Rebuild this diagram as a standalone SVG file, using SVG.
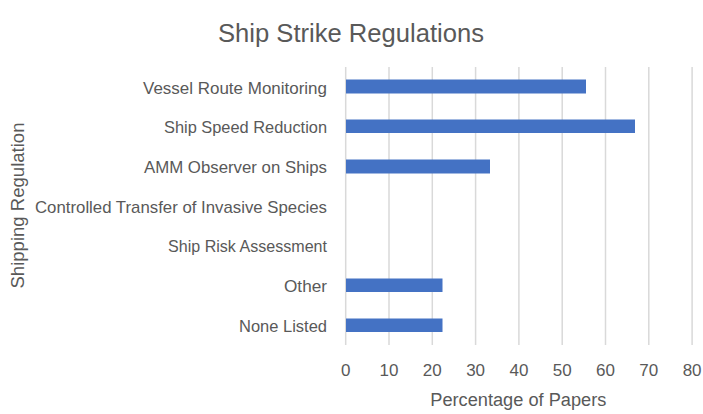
<svg xmlns="http://www.w3.org/2000/svg" width="703" height="414" viewBox="0 0 703 414">
<style>
text{font-family:"Liberation Sans",Arial,sans-serif;fill:#595959}
.cat{font-size:17px;text-anchor:end}
.tick{font-size:17px;text-anchor:middle}
.grid{stroke:#d9d9d9;stroke-width:1.5}
.bar{fill:#4472c4}
</style>
<rect width="703" height="414" fill="#ffffff"/>
<text x="351" y="42" font-size="26" text-anchor="middle" textLength="266" lengthAdjust="spacingAndGlyphs">Ship Strike Regulations</text>
<g id="gridlines">
<line class="grid" x1="345.7" y1="67" x2="345.7" y2="345"/>
<line class="grid" x1="389" y1="67" x2="389" y2="345"/>
<line class="grid" x1="432.3" y1="67" x2="432.3" y2="345"/>
<line class="grid" x1="475.6" y1="67" x2="475.6" y2="345"/>
<line class="grid" x1="518.9" y1="67" x2="518.9" y2="345"/>
<line class="grid" x1="562.2" y1="67" x2="562.2" y2="345"/>
<line class="grid" x1="605.5" y1="67" x2="605.5" y2="345"/>
<line class="grid" x1="648.8" y1="67" x2="648.8" y2="345"/>
<line class="grid" x1="692.1" y1="67" x2="692.1" y2="345"/>
</g>
<g id="bars">
<rect class="bar" x="346" y="79.5" width="240" height="14"/>
<rect class="bar" x="346" y="119.5" width="289" height="13.5"/>
<rect class="bar" x="346" y="159.5" width="144" height="14"/>
<rect class="bar" x="346" y="278.5" width="96.5" height="13.5"/>
<rect class="bar" x="346" y="318.5" width="96.5" height="13.5"/>
</g>
<g id="category-labels">
<text class="cat" x="327" y="93.5" textLength="184" lengthAdjust="spacingAndGlyphs">Vessel Route Monitoring</text>
<text class="cat" x="327" y="133" textLength="163" lengthAdjust="spacingAndGlyphs">Ship Speed Reduction</text>
<text class="cat" x="327" y="173" textLength="183" lengthAdjust="spacingAndGlyphs">AMM Observer on Ships</text>
<text class="cat" x="327" y="212.5" textLength="292" lengthAdjust="spacingAndGlyphs">Controlled Transfer of Invasive Species</text>
<text class="cat" x="327" y="252" textLength="159" lengthAdjust="spacingAndGlyphs">Ship Risk Assessment</text>
<text class="cat" x="327" y="292" textLength="43" lengthAdjust="spacingAndGlyphs">Other</text>
<text class="cat" x="327" y="331.5" textLength="88" lengthAdjust="spacingAndGlyphs">None Listed</text>
</g>
<g id="tick-labels">
<text class="tick" x="345.7" y="376">0</text>
<text class="tick" x="389" y="376">10</text>
<text class="tick" x="432.3" y="376">20</text>
<text class="tick" x="475.6" y="376">30</text>
<text class="tick" x="518.9" y="376">40</text>
<text class="tick" x="562.2" y="376">50</text>
<text class="tick" x="605.5" y="376">60</text>
<text class="tick" x="648.8" y="376">70</text>
<text class="tick" x="692.1" y="376">80</text>
</g>
<text x="518.3" y="406" font-size="18" text-anchor="middle" textLength="176" lengthAdjust="spacingAndGlyphs">Percentage of Papers</text>
<text transform="translate(24,205.5) rotate(-90)" x="0" y="0" font-size="18" text-anchor="middle" textLength="166" lengthAdjust="spacingAndGlyphs">Shipping Regulation</text>
</svg>
